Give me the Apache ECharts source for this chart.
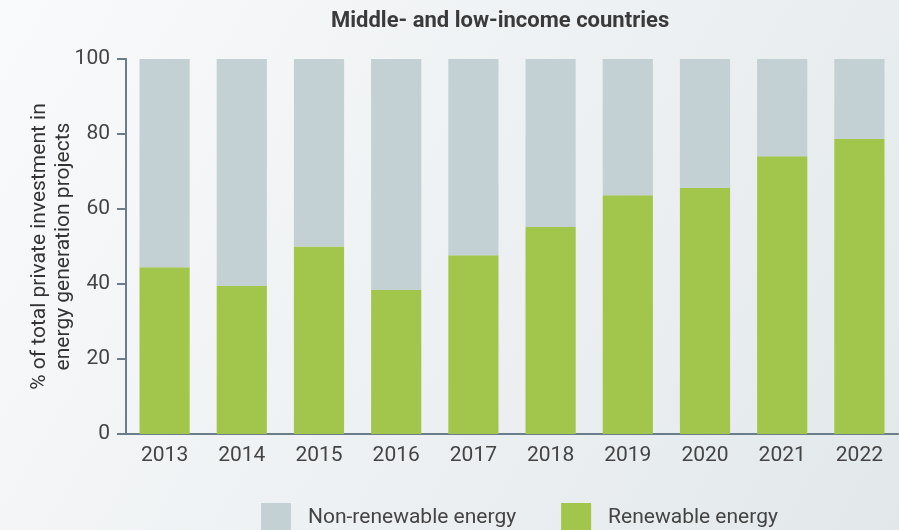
<!DOCTYPE html>
<html>
<head>
<meta charset="utf-8">
<script src="https://cdn.jsdelivr.net/npm/echarts@6/dist/echarts.min.js"></script>
<style>
  html, body { margin: 0; padding: 0; }
  #chart { width: 899px; height: 530px; }
</style>
</head>
<body>
<div id="chart"></div>
<script>
var years = ['2013', '2014', '2015', '2016', '2017', '2018', '2019', '2020', '2021', '2022']
var renewable = [44.5, 39.5, 50, 38.4, 47.7, 55.2, 63.7, 65.6, 74.1, 78.7]
var nonRenewable = [55.5, 60.5, 50, 61.6, 52.3, 44.8, 36.3, 34.4, 25.9, 21.3]
var yTicks = [0, 20, 40, 60, 80, 100]

var chart = echarts.init(document.getElementById('chart'))
chart.setOption({
  backgroundColor: new echarts.graphic.LinearGradient(0, 0, 1, 1, [
    { offset: 0, color: '#f9fafb' },
    { offset: 1, color: '#e2e8ea' }
  ]),
  textStyle: { fontFamily: 'Roboto' },
  title: {
    text: 'Middle- and low-income countries',
    left: 326,
    top: 5,
    textStyle: { fontSize: 22, fontWeight: 'bold', color: '#3a3a3a' }
  },
  legend: {
    data: ['Non-renewable energy', 'Renewable energy'],
    top: 498,
    left: 256,
    itemWidth: 30,
    itemHeight: 30,
    itemGap: 45,
    icon: 'rect',
    textStyle: { fontSize: 21, color: '#444', padding: [0, 0, 0, 12] }
  },
  grid: { left: 126, right: 1, top: 59, bottom: 96 },
  xAxis: {
    type: 'category',
    data: years,
    axisLine: { lineStyle: { color: '#6b7d8b', width: 2 } },
    axisTick: { show: false },
    axisLabel: { fontSize: 21, color: '#444', margin: 11 }
  },
  yAxis: {
    type: 'value',
    min: yTicks[0],
    max: yTicks[yTicks.length - 1],
    interval: 20,
    name: '% of total private investment in\nenergy generation projects',
    nameLocation: 'middle',
    nameGap: 50,
    nameMoveOverlap: false,
    nameTextStyle: { fontSize: 21, color: '#333', lineHeight: 24 },
    axisLine: { show: true, lineStyle: { color: '#6b7d8b', width: 2 } },
    axisTick: { show: true, length: 9, lineStyle: { color: '#6b7d8b', width: 2 } },
    axisLabel: { fontSize: 21, color: '#444', margin: 16 },
    splitLine: { show: false }
  },
  series: [
    {
      name: 'Renewable energy',
      type: 'bar',
      stack: 'total',
      barWidth: '65%',
      data: renewable,
      itemStyle: { color: '#a2c54c' }
    },
    {
      name: 'Non-renewable energy',
      type: 'bar',
      stack: 'total',
      barWidth: '65%',
      data: nonRenewable,
      itemStyle: { color: '#c3d0d4' }
    }
  ]
})
</script>
</body>
</html>
